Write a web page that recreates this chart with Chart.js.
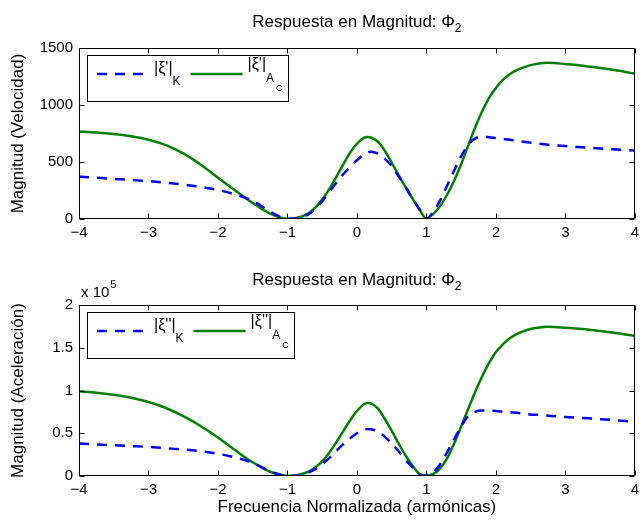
<!DOCTYPE html>
<html>
<head>
<meta charset="utf-8">
<script src="https://cdn.jsdelivr.net/npm/chart.js@4.4.1/dist/chart.umd.min.js"></script>
<style>
  html, body { margin: 0; padding: 0; background: #fff; }
  .panel { position: absolute; left: 0; width: 644px; }
</style>
</head>
<body>
<div class="panel" style="top:0;height:260px"><canvas id="velChart"></canvas></div>
<div class="panel" style="top:260px;height:261px"><canvas id="accChart"></canvas></div>
<script>
// frecuencia normalizada (armónicas)
const freq = [-4, -3.75, -3.5, -3.25, -3, -2.75, -2.5, -2.25, -2, -1.75, -1.5, -1.25, -1,
  -0.9, -0.8, -0.7, -0.6, -0.5, -0.4, -0.3, -0.2, -0.1, 0, 0.1, 0.15, 0.2, 0.3, 0.4, 0.5,
  0.6, 0.7, 0.8, 0.9, 1, 1.1, 1.2, 1.3, 1.4, 1.5, 1.6, 1.7, 1.8, 1.9, 2, 2.1, 2.2, 2.3,
  2.4, 2.5, 2.6, 2.75, 3, 3.25, 3.5, 3.75, 4];

// |xi'| velocidad
const velK = [372, 362, 352, 342, 332, 318, 302, 282, 255, 215, 160, 65, 3,
  5, 15, 40, 88, 155, 235, 315, 390, 455, 515, 565, 582, 590, 575, 530, 465,
  375, 280, 180, 85, 3, 65, 165, 295, 425, 550, 650, 705, 722, 718, 710, 703, 695, 686,
  678, 670, 662, 652, 640, 629, 618, 609, 600];
const velAC = [768, 759, 746, 725, 695, 648, 575, 478, 362, 250, 140, 48, 3,
  6, 20, 50, 100, 170, 260, 365, 475, 580, 660, 712, 720, 715, 680, 600, 495,
  385, 280, 180, 85, 3, 45, 115, 215, 335, 480, 640, 800, 940, 1060, 1150, 1220, 1270, 1305,
  1330, 1350, 1362, 1370, 1360, 1345, 1325, 1302, 1275];

// |xi''| aceleracion, en unidades de 10^5
const accK = [0.38, 0.37, 0.36, 0.35, 0.34, 0.325, 0.31, 0.29, 0.26, 0.215, 0.155, 0.055, 0.002,
  0.004, 0.015, 0.04, 0.08, 0.14, 0.21, 0.29, 0.37, 0.44, 0.50, 0.54, 0.55, 0.548, 0.52, 0.46, 0.38,
  0.29, 0.19, 0.10, 0.02, 0.002, 0.04, 0.14, 0.28, 0.43, 0.58, 0.70, 0.75, 0.765, 0.765, 0.76, 0.755, 0.745, 0.74,
  0.73, 0.72, 0.715, 0.705, 0.69, 0.678, 0.665, 0.65, 0.635];
const accAC = [0.99, 0.975, 0.95, 0.915, 0.865, 0.795, 0.70, 0.585, 0.45, 0.30, 0.16, 0.05, 0.002,
  0.005, 0.02, 0.05, 0.10, 0.17, 0.27, 0.39, 0.52, 0.65, 0.76, 0.84, 0.855, 0.85, 0.79, 0.67, 0.53,
  0.38, 0.24, 0.12, 0.025, 0.002, 0.025, 0.09, 0.21, 0.38, 0.58, 0.78, 0.98, 1.16, 1.32, 1.45, 1.54, 1.61, 1.66,
  1.695, 1.72, 1.735, 1.745, 1.735, 1.72, 1.695, 1.67, 1.64];

const freqTicks = [-4, -3, -2, -1, 0, 1, 2, 3, 4];
const velTicks = [0, 500, 1000, 1500];
const accTicks = [0, 0.5, 1, 1.5, 2];

const FONT = '"Liberation Sans", Arial, Helvetica, sans-serif';
const BLUE = '#0000ff';
const GREEN = '#008000';
const DASH = [10, 8];

function points(ys) {
  return freq.map((x, i) => ({ x: x, y: ys[i] }));
}

// text with sub/superscripts: parts = [{t, size, dy}]
function richWidth(ctx, parts) {
  let w = 0;
  parts.forEach(p => {
    ctx.font = p.size + 'px ' + FONT;
    w += ctx.measureText(p.t).width;
  });
  return w;
}

function drawRich(ctx, parts, x, y) {
  parts.forEach(p => {
    ctx.font = p.size + 'px ' + FONT;
    ctx.fillText(p.t, x, y + (p.dy || 0));
    x += ctx.measureText(p.t).width;
  });
  return x;
}

// box frame with inward ticks on the four sides
const framePlugin = {
  id: 'frame',
  afterDatasetsDraw(chart) {
    const { ctx, chartArea: a, scales } = chart;
    const L = Math.round(a.left) + 0.5, R = Math.round(a.right) - 0.5;
    const T = Math.round(a.top) + 0.5, B = Math.round(a.bottom) - 0.5;
    ctx.save();
    ctx.strokeStyle = '#000';
    ctx.lineWidth = 1;
    ctx.beginPath();
    ctx.rect(L, T, R - L, B - T);
    scales.x.ticks.forEach(t => {
      const px = Math.round(scales.x.getPixelForValue(t.value)) + 0.5;
      ctx.moveTo(px, B); ctx.lineTo(px, B - 5);
      ctx.moveTo(px, T); ctx.lineTo(px, T + 5);
    });
    scales.y.ticks.forEach(t => {
      const py = Math.round(scales.y.getPixelForValue(t.value)) + 0.5;
      ctx.moveTo(L, py); ctx.lineTo(L + 5, py);
      ctx.moveTo(R, py); ctx.lineTo(R - 5, py);
    });
    ctx.stroke();
    ctx.restore();
  }
};

// title, legend and exponent label
const notesPlugin = {
  id: 'notes',
  afterDraw(chart, args, opts) {
    const { ctx, chartArea: a } = chart;
    ctx.save();
    ctx.fillStyle = '#000';
    ctx.textBaseline = 'alphabetic';
    ctx.textAlign = 'left';

    const title = [{ t: 'Respuesta en Magnitud: Φ', size: 17 }, { t: '2', size: 12, dy: 5 }];
    const tw = richWidth(ctx, title);
    drawRich(ctx, title, (a.left + a.right) / 2 - tw / 2, a.top - opts.titleGap);

    if (opts.exponent) {
      const ex = drawRich(ctx, [{ t: 'x 10', size: 15 }], a.left + 2, a.top - 8);
      drawRich(ctx, [{ t: '5', size: 11, dy: -9 }], ex + 1, a.top - 8);
    }

    const lab1 = [{ t: '|' + opts.sym + '|', size: 16 }, { t: 'K', size: 12, dy: 12 }];
    const lab2a = [{ t: '|' + opts.sym + '|', size: 16 }, { t: 'A', size: 12, dy: 13 }];
    const lab2b = [{ t: 'C', size: 9, dy: 22 }];
    const w1 = richWidth(ctx, lab1);
    const w2 = richWidth(ctx, lab2a) + 2 + richWidth(ctx, lab2b);

    const bx = a.left + 8, by = a.top + 7, bh = 46;
    const x1 = bx + 10, x2 = x1 + 57;
    const x3 = x2 + w1 + 10, x4 = x3 + 57;
    const bw = x4 + w2 + 5 - bx;
    const ly = by + 19;

    ctx.fillStyle = '#fff';
    ctx.fillRect(bx, by, bw, bh);
    ctx.strokeStyle = '#000';
    ctx.lineWidth = 1;
    ctx.strokeRect(Math.round(bx) + 0.5, Math.round(by) + 0.5, Math.round(bw), bh);

    ctx.lineWidth = 2.5;
    ctx.strokeStyle = BLUE;
    ctx.setLineDash(DASH);
    ctx.beginPath(); ctx.moveTo(x1, ly); ctx.lineTo(x1 + 51, ly); ctx.stroke();
    ctx.setLineDash([]);
    ctx.strokeStyle = GREEN;
    ctx.beginPath(); ctx.moveTo(x3, ly); ctx.lineTo(x3 + 52, ly); ctx.stroke();

    ctx.fillStyle = '#000';
    drawRich(ctx, lab1, x2, by + 18);
    const ax = drawRich(ctx, lab2a, x4, by + 14);
    drawRich(ctx, lab2b, ax + 2, by + 14);
    ctx.restore();
  }
};

function makeChart(id, k, ac, ticks, o) {
  const last = ticks[ticks.length - 1];
  return new Chart(document.getElementById(id).getContext('2d'), {
    type: 'line',
    data: {
      datasets: [
        { data: points(k), borderColor: BLUE, borderDash: DASH, borderWidth: 2.5 },
        { data: points(ac), borderColor: GREEN, borderWidth: 2.5 }
      ]
    },
    options: {
      responsive: true,
      maintainAspectRatio: false,
      animation: false,
      devicePixelRatio: 1,
      parsing: false,
      layout: { padding: { top: o.top, right: 6, left: 0, bottom: 0 } },
      elements: {
        point: { radius: 0 },
        line: { cubicInterpolationMode: 'monotone', borderCapStyle: 'butt' }
      },
      plugins: {
        legend: { display: false },
        tooltip: { enabled: false },
        notes: o.notes
      },
      scales: {
        x: {
          type: 'linear',
          min: freqTicks[0],
          max: freqTicks[freqTicks.length - 1],
          afterBuildTicks: s => { s.ticks = freqTicks.map(v => ({ value: v })); },
          grid: { display: false, drawTicks: false },
          border: { display: false },
          ticks: {
            padding: 5,
            color: '#000',
            font: { family: FONT, size: 15 },
            maxRotation: 0,
            callback: v => (v < 0 ? '−' + Math.abs(v) : String(v))
          },
          title: o.xTitle ? {
            display: true,
            text: o.xTitle,
            color: '#000',
            font: { family: FONT, size: 17 },
            padding: { top: 0, bottom: 3 }
          } : { display: false },
          afterFit: s => { s.height = o.xHeight; }
        },
        y: {
          min: ticks[0],
          max: last,
          afterBuildTicks: s => { s.ticks = ticks.map(v => ({ value: v })); },
          grid: { display: false, drawTicks: false },
          border: { display: false },
          ticks: {
            padding: 6,
            color: '#000',
            font: { family: FONT, size: 15 },
            callback: v => String(v)
          },
          title: {
            display: true,
            text: o.yTitle,
            color: '#000',
            font: { family: FONT, size: 17 },
            padding: { top: 8, bottom: 0 }
          },
          afterFit: s => { s.width = 79; }
        }
      }
    },
    plugins: [framePlugin, notesPlugin]
  });
}

makeChart('velChart', velK, velAC, velTicks, {
  top: 48, xHeight: 41,
  yTitle: 'Magnitud (Velocidad)',
  notes: { sym: "ξ'", titleGap: 21, exponent: false }
});

makeChart('accChart', accK, accAC, accTicks, {
  top: 45, xHeight: 45,
  yTitle: 'Magnitud (Aceleración)',
  xTitle: 'Frecuencia Normalizada (armónicas)',
  notes: { sym: "ξ''", titleGap: 20, exponent: true }
});
</script>
</body>
</html>
